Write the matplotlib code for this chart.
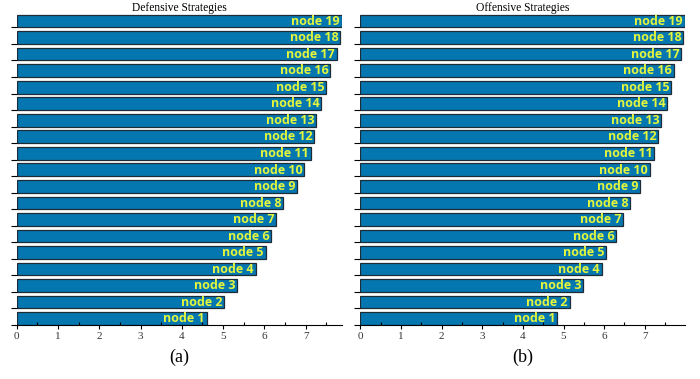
import numpy as np
import matplotlib.pyplot as plt
from matplotlib.ticker import MultipleLocator

labels = ['node %d' % i for i in range(1, 20)]

defensive = [4.60, 5.02, 5.34, 5.79, 6.03, 6.17, 6.29, 6.45, 6.78, 6.96,
             7.12, 7.20, 7.25, 7.38, 7.49, 7.59, 7.75, 7.83, 7.87]
offensive = [4.84, 5.15, 5.48, 5.94, 6.05, 6.30, 6.46, 6.63, 6.87, 7.12,
             7.23, 7.32, 7.40, 7.55, 7.65, 7.71, 7.89, 7.95, 7.98]

titles = ['Defensive Strategies', 'Offensive Strategies']
captions = ['(a)', '(b)']
xmax = [7.88, 7.99]

fig = plt.figure(figsize=(7, 3.79), dpi=100)
axes = [fig.add_axes([0.0239, 0.1425, 0.4647, 0.82]),
        fig.add_axes([0.5147, 0.1425, 0.4639, 0.82])]

y = np.arange(len(labels))
for ax, vals, title, cap, xm in zip(axes, [defensive, offensive], titles, captions, xmax):
    ax.barh(y, vals, height=0.77, align='edge', color='#0577b0',
            edgecolor='#1e2c38', linewidth=0.9)
    for yi, v, lab in zip(y, vals, labels):
        ax.text(v - 0.04, yi - 0.02, lab, ha='right', va='bottom',
                color='#e3f53c', fontsize=9, fontweight='bold',
                family='Open Sans')
    ax.set_xlim(0, xm)
    ax.set_ylim(0, 18.8)
    ax.set_yticks(y)
    ax.set_yticklabels([])
    ax.xaxis.set_major_locator(MultipleLocator(1))
    ax.xaxis.set_minor_locator(MultipleLocator(0.5))
    ax.tick_params(axis='x', which='major', direction='out', length=3,
                   width=0.8, labelsize=8, pad=2)
    ax.tick_params(axis='x', which='minor', direction='in', length=2, width=0.8)
    ax.tick_params(axis='y', direction='out', length=4, width=0.8)
    for lab in ax.get_xticklabels():
        lab.set_family('Liberation Serif')
        lab.set_color('#333333')
    for s in ['top', 'right', 'left']:
        ax.spines[s].set_visible(False)
    ax.spines['bottom'].set_linewidth(0.8)
    ax.set_title(title, fontsize=8.3, family='Liberation Serif', pad=1.5)
    ax.text(0.5, -0.075, cap, transform=ax.transAxes, ha='center', va='top',
            fontsize=13, family='Liberation Serif')

fig.savefig('out.png', dpi=100)
